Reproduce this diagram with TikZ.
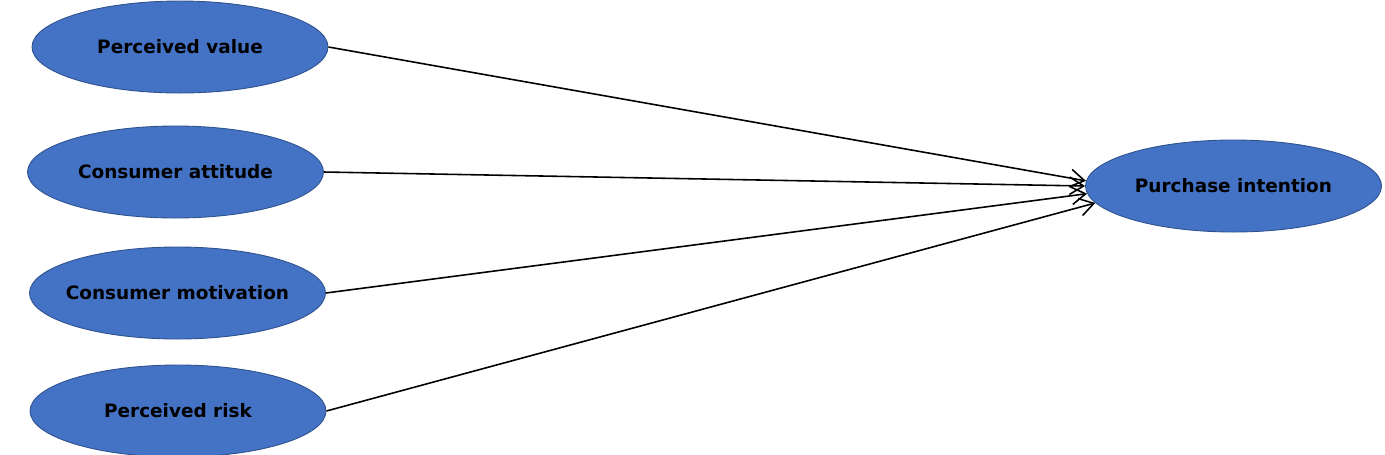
\documentclass[tikz,border=0pt]{standalone}
\usepackage{fontspec}
\setmainfont{DejaVu Sans}
\usepackage{tikz}
\usetikzlibrary{shapes.geometric,arrows.meta}

\definecolor{ovalblue}{HTML}{4472C4}
\definecolor{ovalrim}{HTML}{2F528F}

\begin{document}
\begin{tikzpicture}[
	factor/.style={ellipse, draw=ovalrim, line width=0.5pt, fill=ovalblue, minimum width=5.92cm, minimum height=1.84cm, inner xsep=-10pt, inner ysep=0pt, font=\fontsize{10.5}{12}\selectfont\bfseries},
	>={Straight Barb[length=8pt,width=10pt]}
	]
	%\draw[help lines, thick] (0,0) grid (27.7,-9.08);
	\useasboundingbox (0,0) rectangle (27.7,-9.08);
	\node[factor] (value) at (3.6,-0.94) {Perceived value};
	\node[factor] (attitude) at (3.51,-3.44) {Consumer attitude};
	\node[factor] (motivation) at (3.55,-5.86) {Consumer motivation};
	\node[factor] (risk) at (3.56,-8.22) {Perceived risk};
	\node[factor] (intention) at (24.67,-3.72) {Purchase intention};
	\draw[->, line width=0.9pt] (value.east) -- (intention.178);
	\draw[->, line width=0.9pt] (attitude.east) -- (intention.180);
	\draw[->, line width=0.9pt] (motivation.east) -- (intention.183);
	\draw[->, line width=0.9pt] (risk.east) -- (intention.187);
\end{tikzpicture}
\end{document}
